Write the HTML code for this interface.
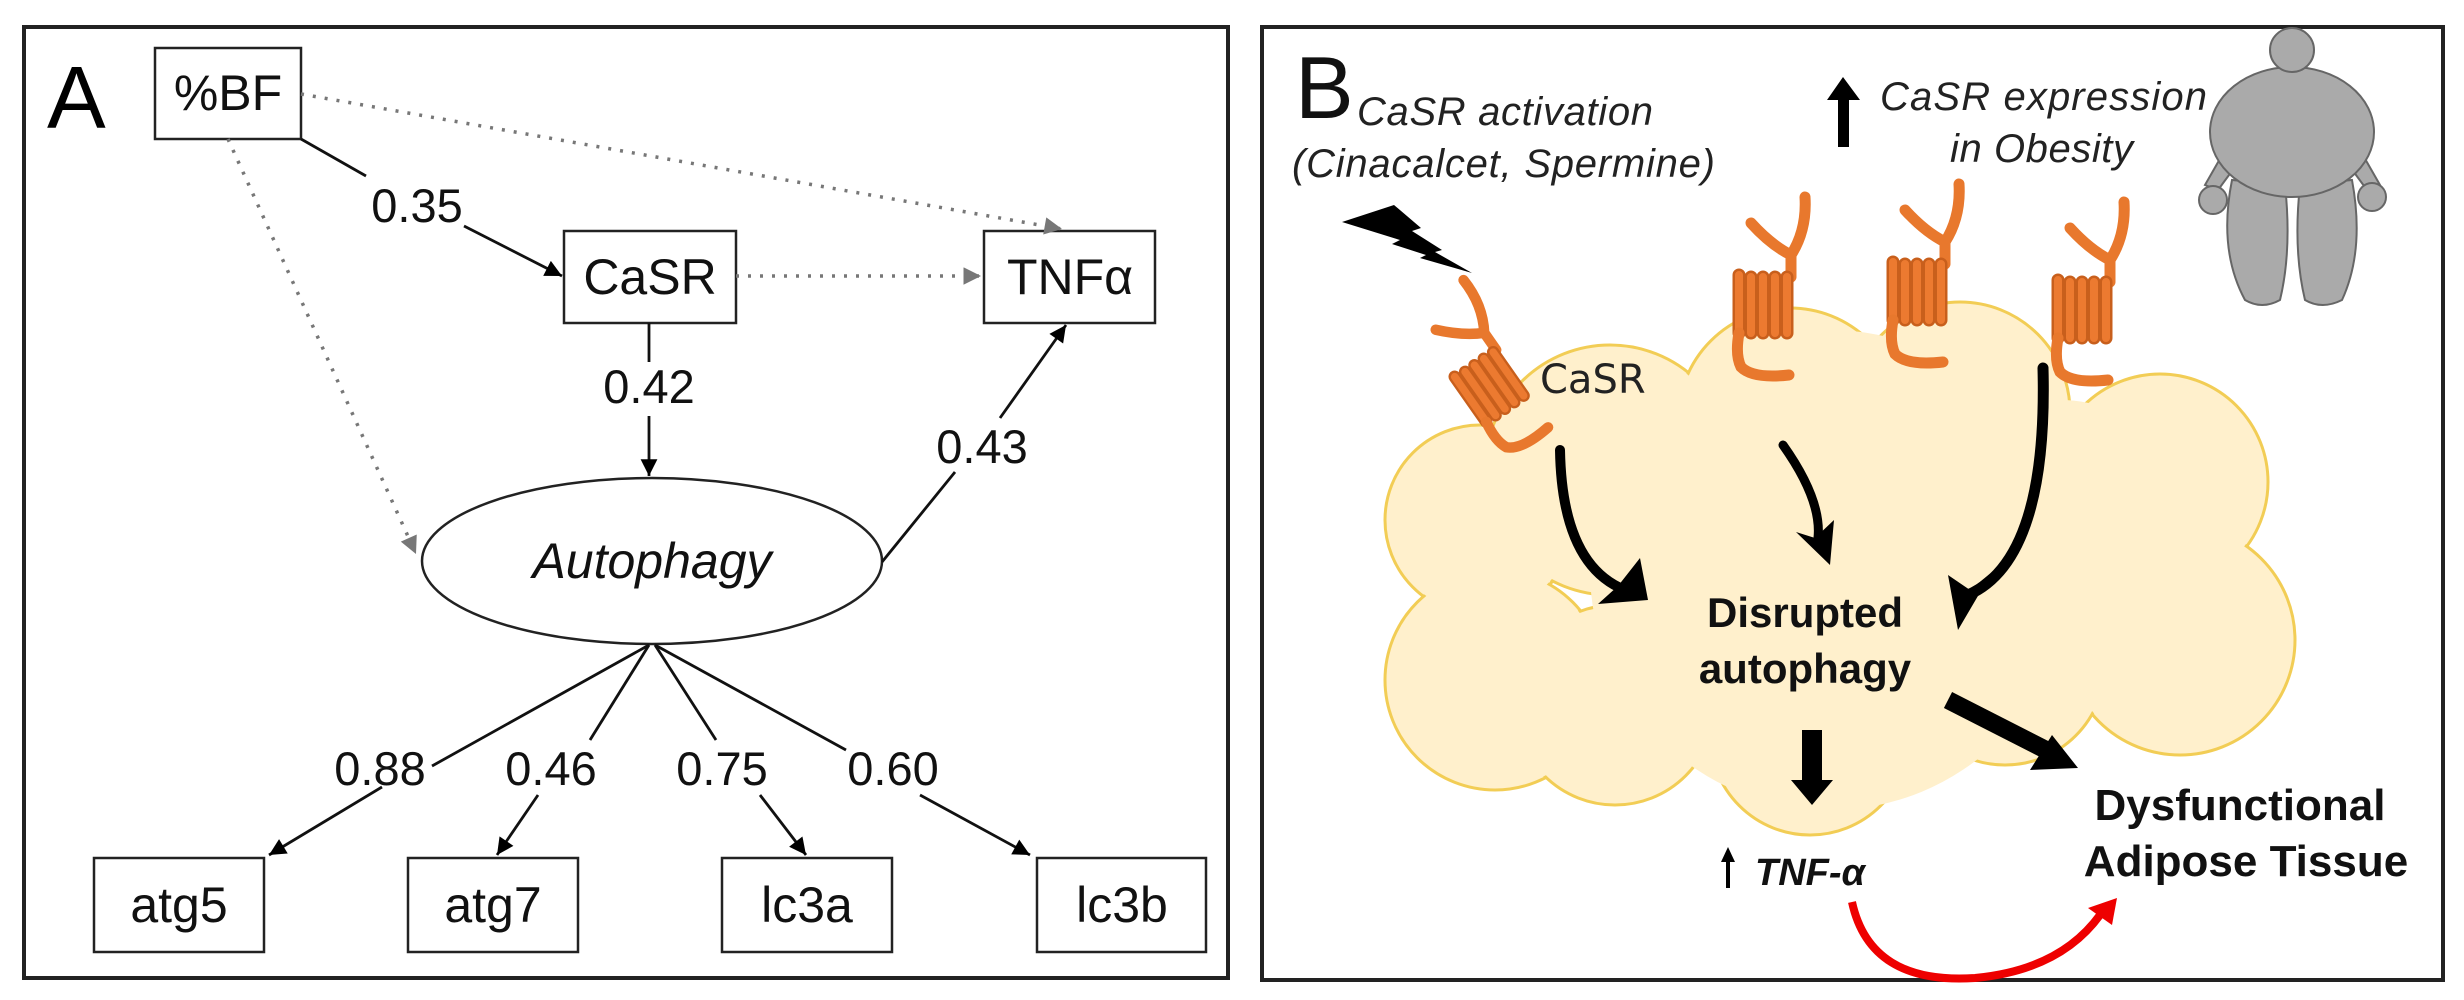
<!DOCTYPE html>
<html><head><meta charset="utf-8"><style>
html,body{margin:0;padding:0;background:#fff;}
svg{display:block;}
text{font-family:"Liberation Sans",Arial,sans-serif;}
</style></head><body>
<svg width="2464" height="1000" viewBox="0 0 2464 1000" xmlns="http://www.w3.org/2000/svg">
<defs>
<marker id="ab" viewBox="0 0 10 10" refX="10" refY="5" markerWidth="7" markerHeight="6" markerUnits="strokeWidth" orient="auto"><path d="M0,0 L10,5 L0,10 z" fill="#000"/></marker>
<marker id="ag" viewBox="0 0 10 10" refX="10" refY="5" markerWidth="6" markerHeight="5" markerUnits="strokeWidth" orient="auto"><path d="M0,0 L10,5 L0,10 z" fill="#777"/></marker>
<g id="rec">
  <path d="M58,2 L58,-22 M58,-20 Q38,-30 18,-52 M58,-20 Q74,-45 72,-78" stroke="#e8782d" stroke-width="11" fill="none" stroke-linecap="round"/>
  <g fill="none" stroke="#c85f1c" stroke-width="13" stroke-linecap="round"><path d="M6,0 V58 M18,58 V2 M30,2 V58 M42,58 V2 M54,2 V58"/></g>
  <g fill="none" stroke="#ec7a30" stroke-width="8" stroke-linecap="round"><path d="M6,0 V58 M18,58 V2 M30,2 V58 M42,58 V2 M54,2 V58"/></g>
  <path d="M6,58 Q2,80 8,92 Q20,104 56,100" stroke="#e8782d" stroke-width="11" fill="none" stroke-linecap="round"/>
</g>
</defs>

<!-- Panel A -->
<rect x="24" y="27" width="1204" height="951" fill="#fff" stroke="#222" stroke-width="4"/>
<text x="47" y="128" font-size="88">A</text>

<g stroke="#222" stroke-width="2.5" fill="#fff">
<rect x="155" y="48" width="146" height="91"/>
<rect x="564" y="231" width="172" height="92"/>
<rect x="984" y="231" width="171" height="92"/>
<rect x="94" y="858" width="170" height="94"/>
<rect x="408" y="858" width="170" height="94"/>
<rect x="722" y="858" width="170" height="94"/>
<rect x="1037" y="858" width="169" height="94"/>
<ellipse cx="652" cy="561" rx="230" ry="83"/>
</g>

<g stroke="#777" stroke-width="3.5" stroke-dasharray="3 9" fill="none">
<line x1="301" y1="94" x2="1062" y2="229" marker-end="url(#ag)"/>
<line x1="228" y1="139" x2="416" y2="554" marker-end="url(#ag)"/>
<line x1="736" y1="276" x2="981" y2="276" marker-end="url(#ag)"/>
</g>
<g stroke="#111" stroke-width="2.8" fill="none">
<line x1="301" y1="139" x2="366" y2="176"/>
<line x1="464" y1="226" x2="562" y2="276" marker-end="url(#ab)"/>
<line x1="649" y1="323" x2="649" y2="362"/>
<line x1="649" y1="416" x2="649" y2="476" marker-end="url(#ab)"/>
<line x1="882" y1="562" x2="955" y2="472"/>
<line x1="1000" y1="418" x2="1066" y2="325" marker-end="url(#ab)"/>
<line x1="649" y1="645" x2="432" y2="766"/>
<line x1="382" y1="787" x2="269" y2="855" marker-end="url(#ab)"/>
<line x1="649" y1="645" x2="590" y2="740"/>
<line x1="538" y1="795" x2="497" y2="855" marker-end="url(#ab)"/>
<line x1="655" y1="645" x2="716" y2="740"/>
<line x1="760" y1="795" x2="806" y2="855" marker-end="url(#ab)"/>
<line x1="655" y1="645" x2="846" y2="750"/>
<line x1="920" y1="795" x2="1030" y2="855" marker-end="url(#ab)"/>
</g>

<g font-size="50" fill="#111" text-anchor="middle">
<text x="228" y="110">%BF</text>
<text x="650" y="294">CaSR</text>
<text x="1070" y="294">TNFα</text>
<text x="652" y="578" font-style="italic">Autophagy</text>
<text x="179" y="922">atg5</text>
<text x="493" y="922">atg7</text>
<text x="807" y="922">lc3a</text>
<text x="1122" y="922">lc3b</text>
</g>
<g font-size="47" fill="#111" text-anchor="middle">
<text x="417" y="222">0.35</text>
<text x="649" y="403">0.42</text>
<text x="982" y="463">0.43</text>
<text x="380" y="785">0.88</text>
<text x="551" y="785">0.46</text>
<text x="722" y="785">0.75</text>
<text x="893" y="785">0.60</text>
</g>

<!-- Panel B -->
<rect x="1262" y="27" width="1181" height="953" fill="#fff" stroke="#222" stroke-width="4"/>

<g fill="#fff0cc" stroke="#f2cd55" stroke-width="3">
<circle cx="1480" cy="520" r="95"/>
<circle cx="1610" cy="470" r="125"/>
<circle cx="1790" cy="420" r="112"/>
<circle cx="1960" cy="412" r="110"/>
<circle cx="2160" cy="482" r="108"/>
<circle cx="2180" cy="640" r="115"/>
<circle cx="1495" cy="680" r="110"/>
<circle cx="1615" cy="705" r="100"/>
<circle cx="1810" cy="735" r="100"/>
<circle cx="2005" cy="665" r="100"/>
</g>
<g fill="#fff0cc">
<circle cx="1480" cy="520" r="93"/>
<circle cx="1610" cy="470" r="123"/>
<circle cx="1790" cy="420" r="110"/>
<circle cx="1960" cy="412" r="108"/>
<circle cx="2160" cy="482" r="106"/>
<circle cx="2180" cy="640" r="113"/>
<circle cx="1495" cy="680" r="108"/>
<circle cx="1615" cy="705" r="98"/>
<circle cx="1810" cy="735" r="98"/>
<circle cx="2005" cy="665" r="98"/>
<circle cx="1830" cy="570" r="240"/>
<circle cx="2060" cy="540" r="140"/>
</g>

<text x="1295" y="118" font-size="88" fill="#111">B</text>
<g font-size="40" font-style="italic" fill="#222">
<text x="1357" y="125" textLength="296">CaSR activation</text>
<text x="1292" y="177" textLength="423">(Cinacalcet,  Spermine)</text>
<text x="1880" y="110" textLength="327">CaSR expression</text>
<text x="1950" y="162" textLength="183">in Obesity</text>
</g>
<path d="M1838,147 V100 H1827 L1843,77 L1860,100 H1849 V147 Z" fill="#000"/>
<path d="M1342,222 L1394,205 L1421,228 L1412,231 L1442,250 L1435,252 L1472,273 L1420,258 L1426,255 L1392,244 L1400,240 Z" fill="#000"/>

<!-- person -->
<g fill="#aaa" stroke="#666" stroke-width="2">
<path d="M2232,180 Q2218,250 2245,300 Q2262,310 2280,300 Q2292,250 2285,185 Z"/>
<path d="M2300,185 Q2293,250 2305,300 Q2322,310 2342,300 Q2365,250 2352,180 Z"/>
<path d="M2225,150 L2205,185 L2218,190 L2240,160 Z"/>
<path d="M2360,150 L2380,185 L2367,190 L2345,160 Z"/>
<circle cx="2213" cy="200" r="14"/>
<circle cx="2372" cy="197" r="14"/>
<ellipse cx="2292" cy="132" rx="82" ry="65"/>
<circle cx="2292" cy="50" r="22"/>
</g>

<use href="#rec" transform="translate(1733,275)"/>
<use href="#rec" transform="translate(1887,262)"/>
<use href="#rec" transform="translate(2052,280)"/>
<use href="#rec" transform="translate(1450,380) rotate(-35) scale(0.95)"/>
<text x="1540" y="393" font-size="40" fill="#222" style="font-family:'DejaVu Sans',sans-serif">CaSR</text>

<g fill="none" stroke="#000" stroke-linecap="round">
<path d="M1560,450 Q1562,565 1625,590" stroke-width="10"/>
<path d="M1783,445 Q1822,500 1818,538" stroke-width="9"/>
<path d="M2043,368 Q2048,560 1968,595" stroke-width="11"/>
</g>
<g fill="#000">
<path d="M1648,600 L1598,604 L1618,586 L1640,558 Z"/>
<path d="M1830,565 L1796,532 L1815,538 L1834,520 Z"/>
<path d="M1958,630 L1948,575 L1970,590 L1992,572 Z"/>
</g>

<g font-weight="bold" font-size="42" fill="#111" text-anchor="middle">
<text x="1805" y="627">Disrupted</text>
<text x="1805" y="683">autophagy</text>
<text x="2240" y="820" font-size="44">Dysfunctional</text>
<text x="2246" y="876" font-size="44">Adipose Tissue</text>
</g>
<path d="M1802,730 H1822 V780 H1833 L1812,805 L1791,780 H1802 Z" fill="#000"/>
<line x1="1948" y1="700" x2="2050" y2="752" stroke="#000" stroke-width="18"/>
<path d="M2078,768 L2030,770 L2052,735 Z" fill="#000"/>

<path d="M1726,888 V862 H1721 L1728,847 L1735,862 H1730 V888 Z" fill="#000"/>
<text x="1755" y="885" font-size="38" font-weight="bold" font-style="italic" fill="#111">TNF-α</text>

<path d="M1852,902 Q1870,985 1975,978 Q2060,970 2100,915" fill="none" stroke="#e00" stroke-width="8"/>
<path d="M2117,898 L2088,908 L2112,925 Z" fill="#e00"/>
</svg>
</body></html>
